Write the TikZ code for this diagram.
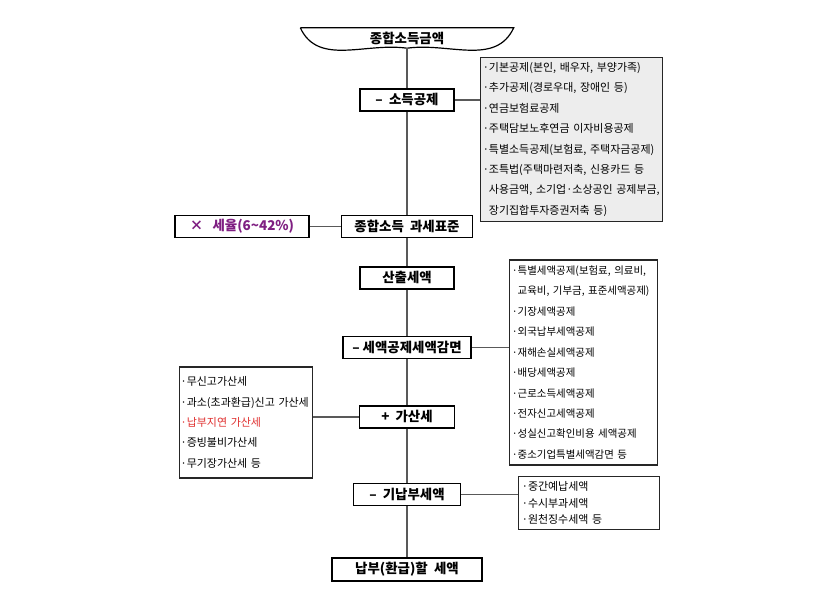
\documentclass[tikz,border=0pt]{standalone}
\usepackage{fontspec}
\newfontfamily\kr{Noto Sans CJK KR}
\usepackage{xcolor}
\usetikzlibrary{positioning,calc}
\definecolor{ratepurple}{HTML}{7F1F82}
\definecolor{latered}{HTML}{E0302F}

\begin{document}
\begin{tikzpicture}[
    x=1bp, y=1bp,
    node distance=40bp,
    stage/.style={rectangle, draw=black, line width=1.5pt, fill=white, minimum height=22bp, inner sep=1bp, font=\kr\bfseries\fontsize{13.5}{16}\selectfont},
    itemlist/.style={rectangle, draw=black!85, line width=1.2pt, fill=white, inner sep=3bp, align=left, font=\kr\fontsize{11}{20.5}\selectfont},
    link/.style={draw=black!65, line width=1.2pt},
]
\useasboundingbox (0,0) rectangle (840,-600);

% Top: gross income
\node[inner sep=0, minimum width=213bp, minimum height=20bp, font=\kr\bfseries\fontsize{13.5}{16}\selectfont] (gross) at (407,-38) {종합소득금액};
\draw[line width=1.2pt] (gross.north west) -- (gross.north east) to[out=-115,in=8] (gross.south) to[out=172,in=-65] (gross.north west);

% Main steps
\node[stage, minimum width=94bp, below=40bp of gross] (deduct) {–\ \ 소득공제};
\node[stage, minimum width=131bp, below=103bp of deduct] (base) {종합소득\ \ 과세표준};
\node[stage, minimum width=94bp, below=28bp of base] (calctax) {산출세액};
\node[stage, minimum width=128bp, below=46bp of calctax] (credit) {–\ 세액공제세액감면};
\node[stage, minimum width=95bp, below=46bp of credit] (penalty) {+\ \ 가산세};
\node[stage, minimum width=107bp, below=54bp of penalty] (prepaid) {–\ \ 기납부세액};
\node[stage, minimum width=150bp, minimum height=23bp, below=51bp of prepaid] (payable) {납부(환급)할\ \ 세액};

% Tax rate
\node[stage, minimum width=134bp, text=ratepurple, left=31bp of base] (rate) {×\ \ \ 세율(6\textasciitilde42\%)};

% Detail lists
\node[itemlist, fill=black!7, text width=177bp, inner xsep=2.5bp, minimum height=164bp, right=25bp of deduct, yshift=-39.5bp] (deductlist) {·기본공제(본인, 배우자, 부양가족)\\·추가공제(경로우대, 장애인 등)\\·연금보험료공제\\·주택담보노후연금 이자비용공제\\·특별소득공제(보험료, 주택자금공제)\\·조특법(주택마련저축, 신용카드 등\\\phantom{·}사용금액, 소기업·소상공인 공제부금,\\\phantom{·}장기집합투자증권저축 등)};
\node[itemlist, font=\kr\fontsize{10.5}{20.5}\selectfont, text width=143bp, inner xsep=2.5bp, minimum height=205bp, right=37bp of credit, yshift=-15bp] (creditlist) {·특별세액공제(보험료, 의료비,\\\phantom{·}교육비, 기부금, 표준세액공제)\\·기장세액공제\\·외국납부세액공제\\·재해손실세액공제\\·배당세액공제\\·근로소득세액공제\\·전자신고세액공제\\·성실신고확인비용 세액공제\\·중소기업특별세액감면 등};
\node[itemlist, text width=130bp, inner xsep=1.5bp, minimum height=111bp, left=46bp of penalty, yshift=-5.5bp] (penaltylist) {·무신고가산세\\·과소(초과환급)신고 가산세\\\textcolor{latered}{·납부지연 가산세}\\·증빙불비가산세\\·무기장가산세 등};
\node[itemlist, font=\kr\fontsize{11}{16.5}\selectfont, text width=135bp, minimum height=53bp, right=57bp of prepaid, yshift=-8.5bp] (prepaidlist) {·중간예납세액\\·수시부과세액\\·원천징수세액 등};

% Main flow
\draw[link] (gross) -- (deduct);
\draw[link] (deduct) -- (base);
\draw[link] (base) -- (calctax);
\draw[link] (calctax) -- (credit);
\draw[link] (credit) -- (penalty);
\draw[link] (penalty) -- (prepaid);
\draw[link] (prepaid) -- (payable);

% Side links
\draw[link] (deduct.east) -- (deduct.east -| deductlist.west);
\draw[link] (rate) -- (base);
\draw[link] (credit.east) -- (credit.east -| creditlist.west);
\draw[link] (penalty.west) -- (penalty.west -| penaltylist.east);
\draw[link] (prepaid.east) -- (prepaid.east -| prepaidlist.west);

\end{tikzpicture}
\end{document}
